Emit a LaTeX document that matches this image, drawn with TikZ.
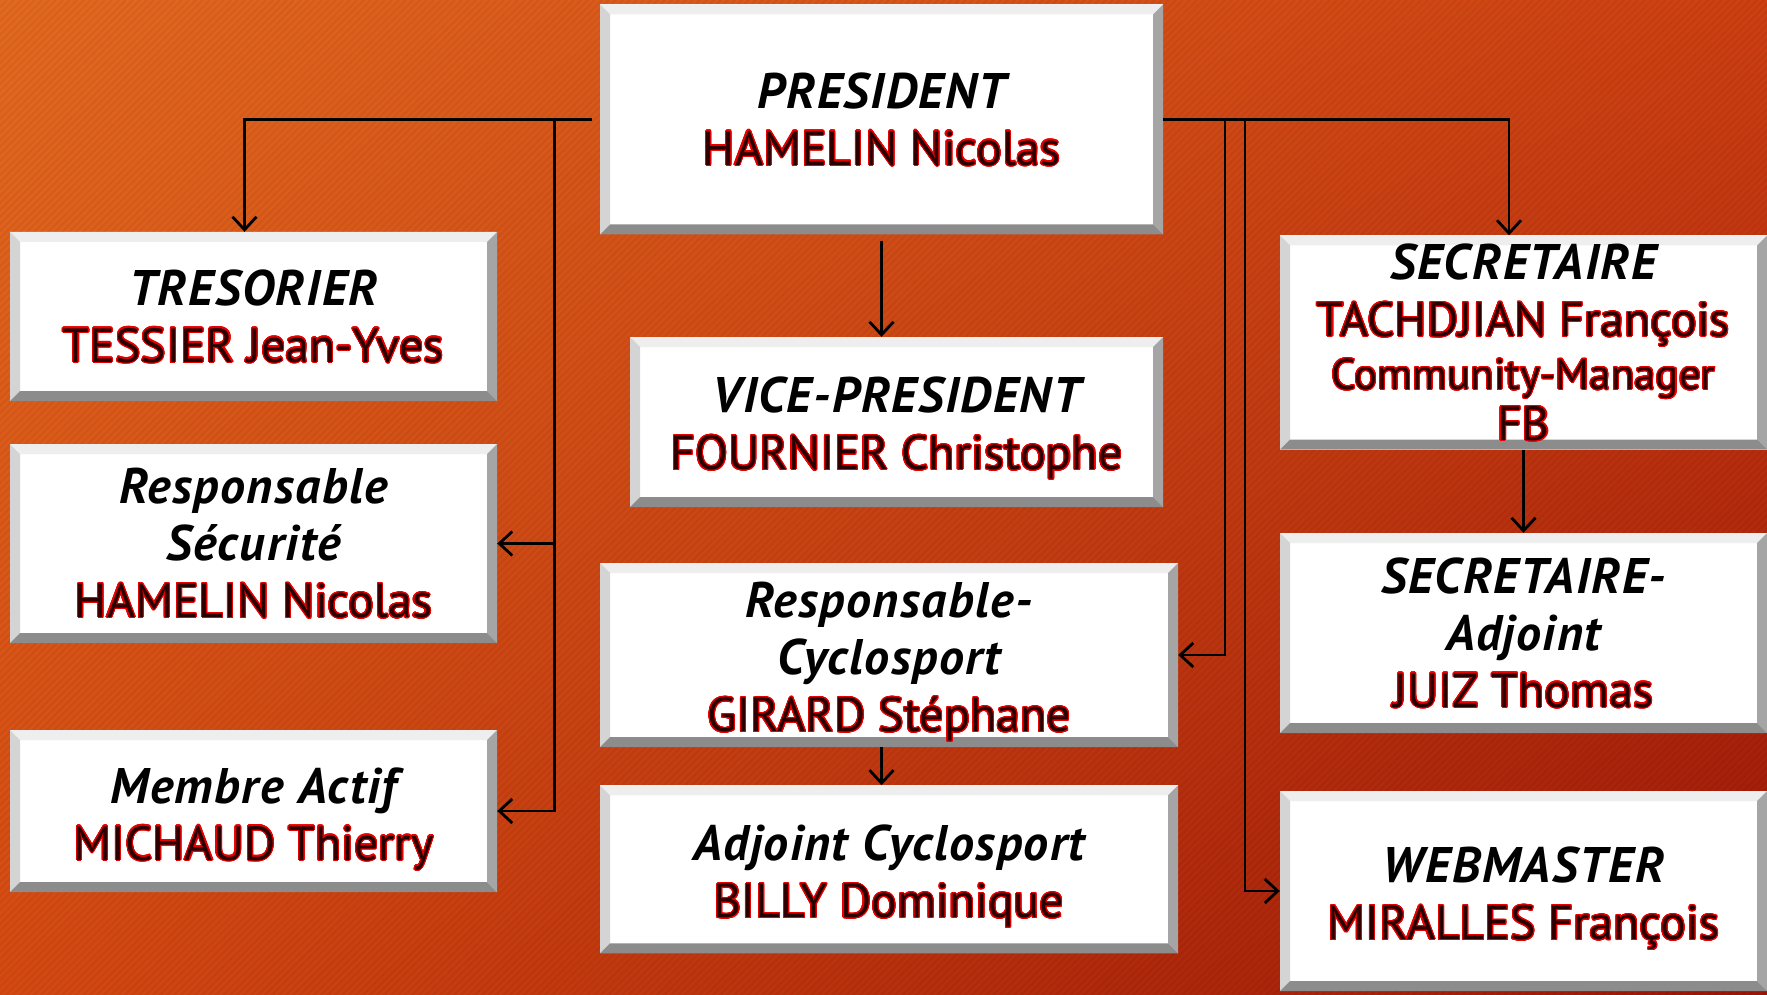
\documentclass[tikz,border=0pt]{standalone}
\usepackage{fontspec}
\setmainfont{PT Sans}
\newfontfamily\titlefont{PT Sans}[LetterSpace=3.0]
\usepackage[copies]{contour}
\contourlength{1.1pt}
\contournumber{24}
\usetikzlibrary{arrows.meta,shadings}
\definecolor{bgUL}{RGB}{228,106,32}
\definecolor{bgUR}{RGB}{206,64,18}
\definecolor{bgLL}{RGB}{214,74,18}
\definecolor{bgLR}{RGB}{156,22,8}
\definecolor{nmred}{RGB}{235,0,0}
\definecolor{nmcore}{RGB}{40,0,0}
\definecolor{bevT}{RGB}{238,238,238}
\definecolor{bevL}{RGB}{212,212,212}
\definecolor{bevR}{RGB}{165,165,165}
\definecolor{bevB}{RGB}{140,140,140}
\newcommand\ttl[1]{{\titlefont\fontsize{50}{57}\selectfont\bfseries\itshape #1}}
\newcommand\nm[1]{\contour{nmred}{\textcolor{nmcore}{#1}}}
\newcommand\dn[1]{\rule{0pt}{#1pt}}
\tikzset{
  box/.style={rectangle, fill=white, inner sep=0pt, align=center,
    font=\fontsize{48}{57}\selectfont,
    path picture={
      \fill[bevT] (path picture bounding box.north west) -- (path picture bounding box.north east)
        -- ([shift={(-10pt,-10pt)}]path picture bounding box.north east)
        -- ([shift={(10pt,-10pt)}]path picture bounding box.north west) -- cycle;
      \fill[bevL] (path picture bounding box.north west) -- (path picture bounding box.south west)
        -- ([shift={(10pt,10pt)}]path picture bounding box.south west)
        -- ([shift={(10pt,-10pt)}]path picture bounding box.north west) -- cycle;
      \fill[bevR] (path picture bounding box.north east) -- (path picture bounding box.south east)
        -- ([shift={(-10pt,10pt)}]path picture bounding box.south east)
        -- ([shift={(-10pt,-10pt)}]path picture bounding box.north east) -- cycle;
      \fill[bevB] (path picture bounding box.south west) -- (path picture bounding box.south east)
        -- ([shift={(-10pt,10pt)}]path picture bounding box.south east)
        -- ([shift={(10pt,10pt)}]path picture bounding box.south west) -- cycle;
    }},
  conn/.style={line width=2.8pt, black},
  arr/.style={conn, -{Straight Barb[length=13pt,width=24pt,line width=2.8pt]}}
}
\begin{document}
\begin{tikzpicture}[x=1pt,y=-1pt]
\useasboundingbox (0,0) rectangle (1767,995);
\shade[upper left=bgUL, upper right=bgUR, lower left=bgLL, lower right=bgLR] (0,0) rectangle (1767,995);
\begin{scope}
\clip (0,0) rectangle (1767,995);
\foreach \i in {0,7,...,2770} \draw[black, opacity=0.05, line width=2.5pt] (\i,0) -- (\i-1000,1000);
\end{scope}

\node[box, minimum width=563pt, minimum height=230pt] (pres) at (881.5,119.5) {\ttl{PRESIDENT}\\\nm{HAMELIN Nicolas}};
\node[box, minimum width=487pt, minimum height=169pt] (tres) at (253.5,316.5) {\ttl{TRESORIER}\\\nm{TESSIER Jean-Yves}};
\node[box, minimum width=487pt, minimum height=199pt] (secu) at (253.5,543.5) {\ttl{Responsable}\\\ttl{Sécurité}\\\nm{HAMELIN Nicolas}};
\node[box, minimum width=487pt, minimum height=162pt] (memb) at (253.5,811) {\dn{52}\ttl{Membre Actif}\\\nm{MICHAUD Thierry}};
\node[box, minimum width=533pt, minimum height=170pt] (vice) at (896.5,422) {\dn{49}\ttl{VICE-PRESIDENT}\\\nm{FOURNIER Christophe}};
\node[box, minimum width=578pt, minimum height=184pt] (rcyc) at (889,655) {\dn{50}\ttl{Responsable-}\\\ttl{Cyclosport}\\\nm{GIRARD Stéphane}};
\node[box, minimum width=578pt, minimum height=168pt] (acyc) at (889,869.4) {\dn{50}\ttl{Adjoint Cyclosport}\\\nm{BILLY Dominique}};
\node[box, minimum width=487pt, minimum height=214pt] (secr) at (1523.5,342.5) {\ttl{SECRETAIRE}\\\nm{TACHDJIAN François}\\[-4pt]{\fontsize{43}{52}\selectfont\nm{Community-Manager}}\\[-6pt]\nm{FB}};
\node[box, minimum width=487pt, minimum height=200pt] (seca) at (1523.5,633) {\ttl{SECRETAIRE-}\\\ttl{Adjoint}\\\nm{JUIZ Thomas}};
\node[box, minimum width=487pt, minimum height=200pt] (webm) at (1523.5,891) {\dn{51}\ttl{WEBMASTER}\\\nm{MIRALLES François}};

\coordinate (lt) at (244.5,119.5);
\coordinate (lv) at (554.4,119.5);
\coordinate (rt) at (1509,119.5);
\coordinate (rv1) at (1225,119.5);
\coordinate (rv2) at (1245,119.5);

\draw[arr, shorten <=8pt] (pres.west) -- (lt) -- (lt |- tres.north);
\draw[arr] (lv) |- (secu.east);
\draw[arr] (lv) |- (memb.east);
\draw[arr] (pres.east) -- (rt) -- (rt |- secr.north);
\draw[arr] (rv1) |- (rcyc.east);
\draw[arr] (rv2) |- (webm.west);
\draw[arr, shorten <=6pt] (pres.south) -- (pres.south |- vice.north);
\draw[arr] (pres.south |- rcyc.south) -- (pres.south |- acyc.north);
\draw[arr] (secr.south) -- (seca.north);
\end{tikzpicture}
\end{document}
